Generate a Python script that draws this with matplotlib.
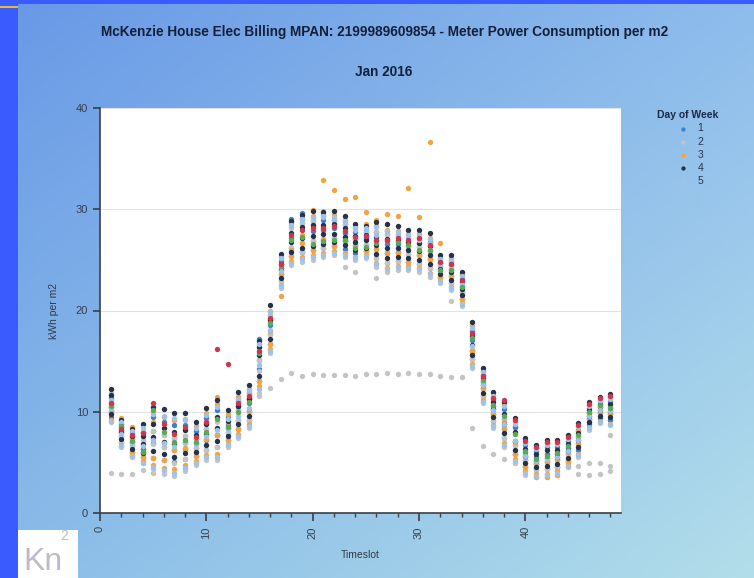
import numpy as np
import matplotlib
matplotlib.use("Agg")
import matplotlib.pyplot as plt
from matplotlib.patches import Rectangle
from matplotlib.ticker import MultipleLocator

plt.rcParams['font.family'] = ['Liberation Sans', 'DejaVu Sans']

TITLE = "McKenzie House Elec Billing MPAN: 2199989609854 - Meter Power Consumption per m2"
SUBTITLE = "Jan 2016"

timeslots = list(range(1, 49))
day_labels = ["1", "2", "3", "4", "5", "6", "7"]
legend_days = ["1", "2", "3", "4", "5"]

# kWh per m2 for each half-hour slot, one row per day in the month
day1 = [
    [11.4, 8.8, 7.3, 8.0, 9.5, 7.7, 7.4, 8.7, 7.3, 9.4, 10.2, 8.7,
     11.1, 11.8, 17.2, 19.6, 24.9, 29.0, 29.6, 28.8, 28.9, 28.1, 28.5, 27.8,
     27.2, 27.8, 27.6, 26.6, 26.4, 27.2, 25.9, 24.9, 24.8, 23.1, 17.1, 13.6,
     11.3, 9.3, 8.5, 6.7, 5.5, 5.8, 5.8, 7.1, 8.2, 10.4, 10.5, 11.1],
    [10.0, 7.6, 6.7, 5.5, 6.9, 6.5, 5.0, 6.3, 6.4, 7.2, 6.5, 7.9,
     9.2, 10.1, 14.2, 17.7, 23.6, 26.2, 25.8, 26.9, 27.0, 27.2, 26.1, 26.5,
     26.5, 26.1, 24.7, 25.8, 25.6, 24.6, 25.1, 23.9, 23.4, 21.1, 16.0, 12.3,
     9.8, 8.3, 5.8, 5.2, 4.8, 5.1, 4.5, 5.8, 6.8, 9.3, 9.9, 9.9],
    [10.8, 8.2, 7.9, 6.3, 8.1, 9.0, 8.7, 7.6, 8.1, 8.3, 7.7, 9.5,
     10.2, 10.9, 15.1, 18.6, 24.2, 27.2, 28.6, 27.9, 28.0, 28.9, 27.7, 27.1,
     27.8, 26.9, 26.6, 27.4, 27.2, 26.3, 26.8, 24.4, 24.1, 22.4, 18.0, 12.9,
     10.6, 10.3, 8.5, 6.0, 6.1, 6.5, 6.5, 6.4, 7.5, 9.9, 11.0, 10.5],
    [9.5, 7.0, 6.0, 6.3, 5.4, 5.2, 6.2, 5.3, 5.6, 6.2, 7.7, 7.2,
     8.3, 9.2, 13.0, 16.7, 22.9, 25.4, 25.8, 26.0, 26.2, 26.4, 26.9, 25.7,
     25.9, 25.2, 25.7, 24.9, 24.8, 25.5, 24.2, 23.3, 22.7, 21.8, 15.2, 11.6,
     9.1, 7.4, 6.7, 4.5, 4.2, 4.3, 4.5, 5.1, 6.2, 8.8, 9.4, 9.2],
]

day2 = [
    [11.9, 8.2, 7.3, 7.2, 8.1, 6.5, 6.2, 7.6, 7.3, 8.3, 9.0, 8.0,
     10.2, 11.8, 15.1, 19.6, 24.2, 28.1, 28.6, 28.8, 29.8, 28.9, 28.5, 27.1,
     27.8, 27.8, 27.6, 27.4, 26.4, 26.3, 25.9, 24.4, 23.4, 21.8, 16.1, 12.9,
     9.8, 9.3, 6.7, 5.2, 4.8, 5.0, 5.2, 5.8, 7.5, 9.9, 10.5, 10.5],
    [9.0, 6.5, 5.5, 4.9, 4.3, 4.2, 4.0, 4.4, 4.9, 5.4, 5.5, 6.6,
     7.6, 8.6, 11.9, 15.8, 22.2, 24.5, 24.8, 25.0, 25.3, 25.5, 25.3, 25.0,
     25.2, 24.3, 23.8, 24.0, 24.0, 23.8, 23.3, 22.7, 22.0, 20.4, 14.3, 10.9,
     8.4, 6.5, 4.9, 3.8, 3.6, 3.6, 3.8, 4.5, 5.5, 8.2, 8.9, 7.7],
    [10.1, 7.0, 6.0, 5.5, 5.4, 5.2, 4.9, 5.3, 6.4, 6.2, 6.5, 7.2,
     8.3, 10.1, 14.0, 17.7, 22.9, 26.3, 26.7, 26.9, 27.1, 27.2, 26.9, 26.4,
     26.5, 25.2, 25.7, 25.7, 25.6, 25.5, 25.1, 23.8, 22.7, 21.8, 15.2, 11.6,
     9.1, 7.4, 5.8, 5.2, 4.2, 4.3, 5.2, 4.5, 3.9, 3.8, 3.9, 4.1],
    [10.8, 7.6, 6.6, 7.2, 6.8, 7.7, 7.4, 6.4, 5.6, 7.3, 7.7, 8.0,
     9.2, 9.2, 13.0, 16.7, 23.6, 25.4, 25.8, 26.0, 26.2, 26.4, 24.3, 23.8,
     25.9, 23.2, 24.7, 24.9, 24.8, 24.6, 24.2, 23.3, 20.9, 21.1, 15.2, 12.3,
     9.8, 8.4, 5.8, 4.5, 4.8, 5.0, 4.5, 5.1, 6.9, 9.3, 9.9, 9.8],
    # bank holiday
    [4.0, 3.9, 3.9, 4.2, 4.0, 3.9, 3.7, 4.1, 4.7, 5.2, 5.2, 6.5,
     7.4, 8.4, 11.6, 12.3, 13.2, 13.8, 13.5, 13.7, 13.6, 13.6, 13.6, 13.5,
     13.7, 13.7, 13.8, 13.7, 13.8, 13.7, 13.7, 13.5, 13.4, 13.4, 8.4, 6.6,
     5.8, 5.3, 4.9, 4.6, 4.4, 4.4, 4.5, 4.6, 4.6, 4.9, 4.9, 4.6],
]

day3 = [
    [9.8, 8.0, 7.5, 6.0, 9.0, 7.0, 5.5, 8.2, 6.0, 9.0, 11.5, 9.0,
     11.5, 12.0, 16.0, 18.0, 21.4, 26.0, 27.5, 29.9, 32.9, 31.9, 31.0, 31.2,
     29.7, 28.9, 29.5, 29.3, 32.1, 29.2, 36.6, 26.7, 25.0, 23.5, 15.8, 13.0,
     10.0, 9.0, 7.0, 5.5, 5.0, 5.0, 5.3, 6.0, 8.1, 9.4, 10.0, 11.4],
    [10.1, 8.2, 6.0, 5.5, 5.4, 5.2, 6.2, 6.4, 5.6, 7.3, 7.7, 7.2,
     8.3, 10.1, 13.0, 16.7, 23.6, 25.4, 26.7, 26.0, 27.1, 26.4, 26.9, 26.4,
     25.9, 26.1, 25.7, 25.7, 24.8, 25.5, 25.1, 23.3, 23.4, 21.1, 16.1, 12.3,
     9.8, 8.4, 5.8, 4.5, 3.6, 3.6, 3.8, 5.1, 6.9, 9.9, 10.5, 9.8],
    [11.0, 9.4, 8.5, 8.0, 10.0, 9.5, 9.2, 9.3, 8.6, 9.9, 10.8, 9.8,
     11.5, 12.2, 16.5, 20.0, 25.3, 28.6, 29.1, 29.3, 29.4, 29.4, 28.9, 28.2,
     28.5, 28.3, 28.0, 27.9, 27.6, 27.6, 27.2, 25.2, 25.2, 23.5, 18.5, 14.0,
     11.7, 10.8, 9.0, 7.1, 6.4, 6.9, 6.9, 7.4, 8.6, 10.7, 11.2, 11.5],
    [9.2, 6.7, 5.7, 5.1, 4.7, 4.4, 4.3, 4.7, 5.1, 5.7, 5.8, 6.8,
     7.8, 8.8, 12.5, 16.2, 22.5, 24.9, 25.3, 25.5, 25.7, 25.9, 25.7, 25.3,
     25.5, 24.7, 24.2, 24.4, 24.4, 24.2, 23.7, 23.0, 22.3, 20.7, 14.7, 11.2,
     8.7, 6.9, 5.3, 4.1, 3.9, 3.9, 4.1, 4.8, 5.8, 8.5, 9.1, 8.8],
]

day4 = [
    [12.2, 9.2, 8.3, 8.8, 10.5, 10.3, 9.9, 9.9, 9.0, 10.4, 11.2, 10.2,
     12.0, 12.6, 17.0, 20.5, 25.6, 28.8, 29.4, 29.8, 29.7, 29.8, 29.3, 28.5,
     28.3, 28.7, 28.5, 28.3, 28.0, 28.0, 27.7, 25.5, 25.5, 23.8, 18.9, 14.3,
     12.0, 11.0, 9.4, 7.4, 6.7, 7.2, 7.2, 7.7, 8.9, 11.0, 11.5, 11.8],
    [10.5, 8.5, 7.6, 6.8, 7.5, 8.4, 8.0, 8.2, 7.7, 8.8, 9.5, 8.4,
     10.6, 11.4, 15.6, 19.1, 24.6, 27.7, 28.2, 28.4, 28.4, 28.5, 28.1, 27.4,
     27.5, 27.3, 27.1, 27.0, 26.8, 26.7, 26.4, 24.7, 24.5, 22.8, 17.5, 13.3,
     11.0, 9.8, 8.0, 6.3, 5.8, 6.2, 6.2, 6.8, 7.9, 10.2, 10.8, 10.8],
    [9.8, 7.3, 6.3, 5.9, 6.1, 5.8, 5.5, 5.9, 6.0, 6.7, 7.1, 7.6,
     8.8, 9.6, 13.5, 17.2, 23.2, 25.8, 26.2, 26.4, 26.6, 26.8, 26.5, 26.0,
     26.2, 25.6, 25.2, 25.3, 25.2, 25.0, 24.6, 23.6, 23.0, 21.5, 15.6, 11.9,
     9.5, 7.9, 6.2, 4.9, 4.5, 4.6, 4.8, 5.4, 6.5, 9.0, 9.6, 9.5],
    [11.7, 8.0, 7.0, 7.6, 8.8, 7.0, 6.8, 7.0, 6.9, 7.8, 8.4, 9.1,
     10.6, 11.3, 16.4, 19.2, 24.0, 26.8, 27.2, 27.4, 27.6, 27.6, 27.3, 26.8,
     27.0, 26.5, 26.2, 26.2, 26.0, 25.9, 25.5, 24.1, 23.8, 22.1, 16.6, 12.6,
     10.3, 8.8, 7.1, 5.6, 5.1, 5.4, 5.5, 6.1, 7.2, 9.6, 10.2, 10.1],
]

day5 = [
    [10.4, 7.8, 6.9, 6.6, 7.2, 6.9, 6.6, 6.9, 6.8, 7.6, 8.2, 8.3,
     9.6, 10.4, 14.6, 18.1, 23.9, 28.4, 29.0, 29.1, 29.2, 29.0, 28.7, 28.0,
     28.0, 27.5, 27.9, 27.6, 27.3, 27.0, 26.7, 24.6, 24.3, 22.6, 16.5, 12.6,
     10.2, 8.8, 7.1, 5.6, 5.1, 5.3, 5.5, 6.1, 7.2, 9.6, 10.2, 10.1],
    [9.1, 6.6, 5.6, 4.9, 4.5, 4.2, 4.0, 4.4, 4.9, 5.5, 5.5, 6.7,
     7.6, 8.6, 12.2, 16.0, 22.4, 24.7, 25.1, 25.3, 25.5, 25.7, 25.5, 25.2,
     25.4, 24.6, 24.1, 24.3, 24.2, 24.1, 23.6, 22.9, 22.2, 20.6, 14.5, 11.0,
     8.6, 6.7, 5.1, 4.0, 3.7, 3.8, 4.0, 4.6, 5.7, 8.4, 9.0, 8.7],
    [11.2, 9.0, 8.1, 8.4, 9.8, 9.6, 9.4, 9.2, 8.4, 9.7, 10.5, 9.3,
     11.3, 12.1, 16.7, 19.9, 25.2, 28.3, 28.9, 29.2, 29.3, 29.2, 28.8, 28.1,
     28.1, 28.2, 27.9, 27.8, 27.5, 27.5, 27.1, 25.1, 25.0, 23.4, 18.3, 13.9,
     11.6, 10.6, 8.8, 6.9, 6.3, 6.7, 6.8, 7.3, 8.5, 10.6, 11.1, 11.3],
]

day6 = [
    [10.6, 8.6, 7.1, 6.0, 10.2, 8.0, 7.0, 7.2, 7.0, 8.0, 9.3, 8.5,
     10.0, 11.0, 15.8, 18.8, 24.4, 27.0, 27.3, 26.6, 26.9, 27.0, 27.0, 26.2,
     26.3, 26.7, 26.9, 26.8, 26.5, 26.0, 26.0, 24.0, 24.0, 22.3, 17.3, 13.1,
     10.7, 9.6, 7.8, 6.1, 5.3, 5.6, 5.9, 6.6, 7.7, 10.0, 10.7, 10.4],
]

day7 = [
    [10.9, 8.3, 7.7, 7.9, 10.9, 8.8, 7.8, 8.5, 7.5, 9.0, 16.2, 14.7,
     10.9, 11.6, 16.0, 19.3, 24.6, 27.5, 28.0, 28.1, 28.1, 28.3, 27.9, 27.3,
     27.4, 27.0, 27.0, 27.2, 27.0, 27.2, 26.5, 24.8, 24.6, 23.0, 17.8, 13.5,
     11.4, 11.2, 9.2, 7.1, 6.5, 7.0, 7.0, 7.5, 8.7, 10.8, 11.4, 11.6],
]

day_colors = ["#3f7fcf", "#c4c4c4", "#f4a340", "#26324a", "#9ec3ea",
              "#5aaa55", "#d2334d"]

fig = plt.figure(figsize=(7.54, 5.78), dpi=100)

# gradient backdrop behind everything
bg = fig.add_axes([0, 0, 1, 1], zorder=-10)
tl = np.array([0x68, 0x98, 0xe6]) / 255
tr = np.array([0x8e, 0xbc, 0xec]) / 255
bl = np.array([0x8a, 0xbc, 0xe8]) / 255
br = np.array([0xb2, 0xde, 0xea]) / 255
u = np.linspace(0, 1, 200)[None, :, None]
v = np.linspace(0, 1, 200)[:, None, None]
grad = (1 - v) * ((1 - u) * tl + u * tr) + v * ((1 - u) * bl + u * br)
bg.imshow(grad, extent=[0, 1, 0, 1], aspect='auto', origin='upper')
bg.set_xlim(0, 1)
bg.set_ylim(0, 1)
bg.axis('off')

W, H = 754, 578
bg.add_patch(Rectangle((0, 0), 18 / W, 1, color="#3a5cff", lw=0))
bg.add_patch(Rectangle((0, 1 - 4 / H), 1, 4 / H, color="#3a5cff", lw=0))
bg.add_patch(Rectangle((0, 1 - 8 / H), 18 / W, 2 / H, color="#e8b830", lw=0))

# logo box
bg.add_patch(Rectangle((18 / W, 0), 60 / W, 48 / H, color="white", lw=0))
bg.text(23 / W, 1 / H, "Kn", fontsize=23, color="#bcbcc8", ha='left', va='bottom')
bg.text(60 / W, 35 / H, "2", fontsize=10, color="#bcbcc8", ha='left', va='bottom')

ax = fig.add_axes([100 / W, 1 - 513 / H, 521 / W, 405 / H])
ax.set_facecolor("white")

groups = [day1, day2, day3, day4, day5, day6, day7]
for label, color, rows in zip(day_labels, day_colors, groups):
    for i, row in enumerate(rows):
        ax.scatter(timeslots, row, s=15, color=color, linewidths=0,
                   label=label if i == 0 else None, zorder=3)

ax.set_xlim(0, 49)
ax.set_ylim(0, 40)
ax.yaxis.set_major_locator(MultipleLocator(10))
ax.xaxis.set_major_locator(MultipleLocator(10))
ax.xaxis.set_minor_locator(MultipleLocator(2))
ax.grid(axis='y', color="#e2e2e2", lw=0.8, zorder=0)
for side in ["top", "right"]:
    ax.spines[side].set_visible(False)
for side in ["left", "bottom"]:
    ax.spines[side].set_color("#3a3f4a")
    ax.spines[side].set_linewidth(1.2)
ax.tick_params(axis='both', colors="#3a3f4a", labelsize=8, direction='out')
ax.tick_params(axis='x', which='major', length=6, width=1.2, labelrotation=90)
ax.tick_params(axis='x', which='minor', length=3, width=1.0, color="#3a3f4a")
ax.tick_params(axis='y', length=5, width=1.2)
ax.set_xlabel("Timeslot", fontsize=7.5, color="#333a45", labelpad=8)
ax.set_ylabel("kWh per m2", fontsize=7.5, color="#333a45", labelpad=12)

handles, labels = ax.get_legend_handles_labels()
keep = [(h, l) for h, l in zip(handles, labels) if l in legend_days]
leg = fig.legend([h for h, _ in keep], [l for _, l in keep], title="Day of Week",
                 loc='upper left', bbox_to_anchor=(648 / W, 1 - 101 / H),
                 frameon=False, fontsize=7.5, title_fontsize=7.5,
                 handletextpad=0.4, labelspacing=0.3, markerscale=0.8)
leg.get_title().set_fontweight('bold')
leg.get_title().set_color("#1c2a45")
for t in leg.get_texts():
    t.set_color("#2a3550")

fig.text(385 / W, 1 - 32 / H, TITLE, ha='center', va='center',
         fontsize=9.8, fontweight='bold', color="#14203a")
fig.text(384 / W, 1 - 72 / H, SUBTITLE, ha='center', va='center',
         fontsize=9.8, fontweight='bold', color="#14203a")

fig.savefig("out.png", dpi=100)
